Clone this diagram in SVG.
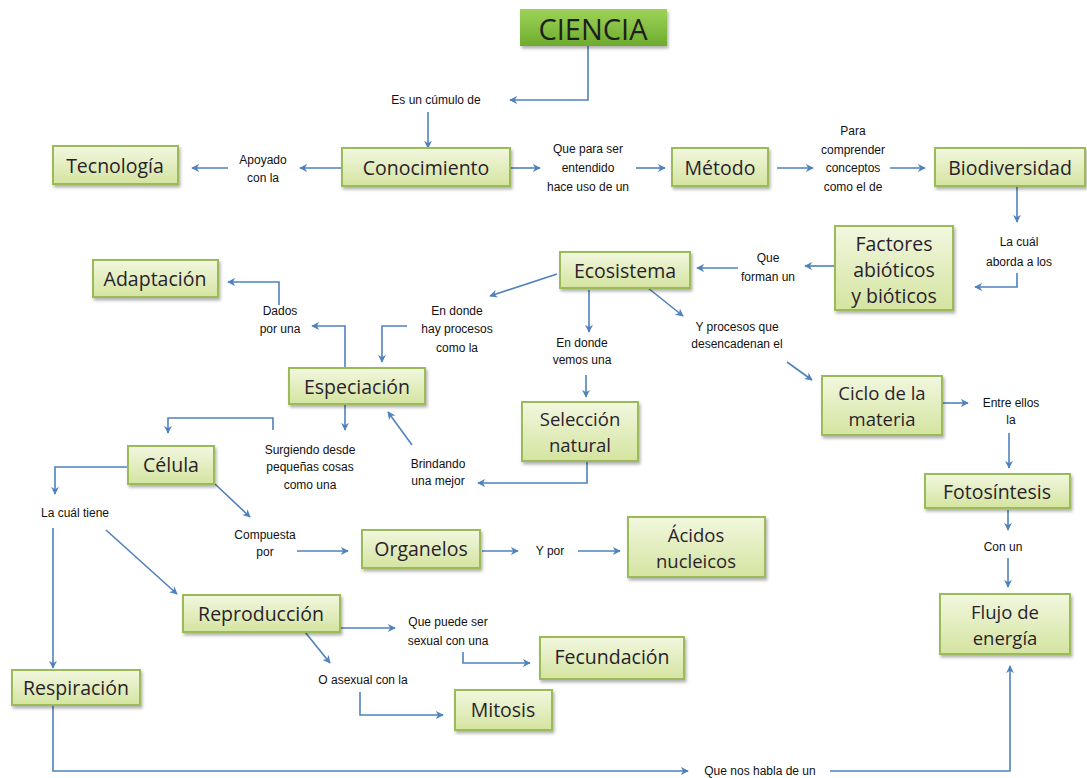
<svg xmlns="http://www.w3.org/2000/svg" width="1087" height="778" viewBox="0 0 1087 778">
<defs>
<linearGradient id="gBox" x1="0" y1="0" x2="0" y2="1">
<stop offset="0" stop-color="#f2f7df"/>
<stop offset="1" stop-color="#d4e4a0"/>
</linearGradient>
<linearGradient id="gTop" x1="0" y1="0" x2="0" y2="1">
<stop offset="0" stop-color="#9ed35a"/>
<stop offset="1" stop-color="#6dac2c"/>
</linearGradient>
<filter id="sh" x="-10%" y="-10%" width="130%" height="140%">
<feDropShadow dx="1.5" dy="2.5" stdDeviation="1.5" flood-color="#000" flood-opacity="0.3"/>
</filter>
<marker id="ar" viewBox="0 0 10 10" refX="9" refY="5" markerWidth="8" markerHeight="8" markerUnits="userSpaceOnUse" orient="auto">
<path d="M0,0 L10,5 L0,10 L3,5 Z" fill="#4f81bd"/>
</marker>
</defs>
<style>
.box{fill:url(#gBox);stroke:#9bbb59;stroke-width:2;filter:url(#sh)}
.t{font-family:"Open Sans","Liberation Sans",sans-serif;font-size:19.5px;fill:#2a1f2d;text-anchor:middle;dominant-baseline:central}
.t2{font-size:18.5px}
.l{font-family:"Liberation Sans",sans-serif;font-size:12px;fill:#111;text-anchor:middle;dominant-baseline:central}
.c path{fill:none;stroke:#4f81bd;stroke-width:1.6;marker-end:url(#ar)}
</style>
<rect width="1087" height="778" fill="#ffffff"/>

<g class="c" id="connectors">
<path d="M588,46 V100 H510"/>
<path d="M428,112 V148"/>
<path d="M342,168 H300"/>
<path d="M228,168 H192"/>
<path d="M510,168 H540"/>
<path d="M636,168 H665"/>
<path d="M777,168 H813"/>
<path d="M890,168 H925"/>
<path d="M1017,186 V222"/>
<path d="M1017,273 V287 H975"/>
<path d="M835,266 H805"/>
<path d="M738,268 H697"/>
<path d="M557,274 L490,296"/>
<path d="M407,326 H382 V362"/>
<path d="M345,368 V326 H312"/>
<path d="M279,305 V282 H228"/>
<path d="M589,290 V332"/>
<path d="M586,375 V397"/>
<path d="M587,461 V483 H478"/>
<path d="M412,445 L388,412"/>
<path d="M648,288 L683,316"/>
<path d="M787,362 L812,380"/>
<path d="M942,403 H968"/>
<path d="M1009,433 V468"/>
<path d="M1008,510 V530"/>
<path d="M1008,558 V587"/>
<path d="M345,404 V430"/>
<path d="M273,430 V418 H168 V433"/>
<path d="M215,484 L250,517"/>
<path d="M297,551 H348"/>
<path d="M482,551 H518"/>
<path d="M578,551 H620"/>
<path d="M128,467 H55 V494"/>
<path d="M53,528 V668"/>
<path d="M106,530 L177,594"/>
<path d="M340,628 H395"/>
<path d="M463,652 V663 H530"/>
<path d="M305,632 L330,663"/>
<path d="M360,692 V715 H443"/>
<path d="M53,705 V771 H688"/>
<path d="M830,771 H1010 V666"/>
</g>

<g id="ciencia">
<rect x="520" y="9" width="147" height="37" fill="url(#gTop)" filter="url(#sh)"/>
<text class="t" x="593" y="28" style="font-size:29px;fill:#1e1e1e">CIENCIA</text>
</g>
<g id="conocimiento"><rect class="box" x="342" y="148" width="168" height="38"/><text class="t" x="426" y="167">Conocimiento</text></g>
<g id="tecnologia"><rect class="box" x="53" y="146" width="125" height="38"/><text class="t" x="115" y="165">Tecnología</text></g>
<g id="metodo"><rect class="box" x="672" y="148" width="96" height="38"/><text class="t" x="720" y="167">Método</text></g>
<g id="biodiversidad"><rect class="box" x="935" y="148" width="150" height="38"/><text class="t" x="1010" y="167">Biodiversidad</text></g>
<g id="factores"><rect class="box" x="835" y="226" width="118" height="84"/><text class="t" x="894" y="243">Factores</text><text class="t" x="894" y="269">abióticos</text><text class="t" x="894" y="295">y bióticos</text></g>
<g id="ecosistema"><rect class="box" x="560" y="252" width="130" height="36"/><text class="t" x="625" y="270">Ecosistema</text></g>
<g id="adaptacion"><rect class="box" x="93" y="260" width="125" height="37"/><text class="t" x="155" y="278">Adaptación</text></g>
<g id="especiacion"><rect class="box" x="289" y="368" width="136" height="36"/><text class="t" x="357" y="386">Especiación</text></g>
<g id="seleccion"><rect class="box" x="522" y="402" width="116" height="59"/><text class="t t2" x="580" y="418">Selección</text><text class="t t2" x="580" y="444">natural</text></g>
<g id="ciclo"><rect class="box" x="822" y="376" width="120" height="59"/><text class="t t2" x="882" y="392">Ciclo de la</text><text class="t t2" x="882" y="418">materia</text></g>
<g id="fotosintesis"><rect class="box" x="925" y="474" width="145" height="34"/><text class="t" x="997" y="491">Fotosíntesis</text></g>
<g id="flujo"><rect class="box" x="940" y="594" width="130" height="60"/><text class="t t2" x="1005" y="611">Flujo de</text><text class="t t2" x="1005" y="637">energía</text></g>
<g id="celula"><rect class="box" x="128" y="446" width="86" height="38"/><text class="t" x="171" y="464">Célula</text></g>
<g id="organelos"><rect class="box" x="362" y="530" width="118" height="38"/><text class="t" x="421" y="548">Organelos</text></g>
<g id="acidos"><rect class="box" x="628" y="517" width="137" height="60"/><text class="t t2" x="696" y="534">Ácidos</text><text class="t t2" x="696" y="560">nucleicos</text></g>
<g id="reproduccion"><rect class="box" x="183" y="595" width="157" height="37"/><text class="t" x="261" y="613">Reproducción</text></g>
<g id="fecundacion"><rect class="box" x="540" y="637" width="144" height="42"/><text class="t" x="612" y="656">Fecundación</text></g>
<g id="mitosis"><rect class="box" x="455" y="690" width="97" height="40"/><text class="t" x="503" y="709">Mitosis</text></g>
<g id="respiracion"><rect class="box" x="12" y="670" width="128" height="35"/><text class="t" x="76" y="687">Respiración</text></g>

<g id="labels">
<text class="l" x="436" y="100">Es un cúmulo de</text>
<text class="l" x="263" y="160">Apoyado</text><text class="l" x="263" y="178">con la</text>
<text class="l" x="588" y="149">Que para ser</text><text class="l" x="588" y="168">entendido</text><text class="l" x="588" y="187">hace uso de un</text>
<text class="l" x="853" y="131">Para</text><text class="l" x="853" y="150">comprender</text><text class="l" x="853" y="168">conceptos</text><text class="l" x="853" y="187">como el de</text>
<text class="l" x="1019" y="242">La cuál</text><text class="l" x="1019" y="262">aborda a los</text>
<text class="l" x="768" y="258">Que</text><text class="l" x="768" y="277">forman un</text>
<text class="l" x="457" y="311">En donde</text><text class="l" x="457" y="329">hay procesos</text><text class="l" x="457" y="348">como la</text>
<text class="l" x="280" y="311">Dados</text><text class="l" x="280" y="329">por una</text>
<text class="l" x="582" y="343">En donde</text><text class="l" x="582" y="360">vemos una</text>
<text class="l" x="737" y="327">Y procesos que</text><text class="l" x="737" y="344">desencadenan el</text>
<text class="l" x="1011" y="403">Entre ellos</text><text class="l" x="1011" y="420">la</text>
<text class="l" x="1003" y="547">Con un</text>
<text class="l" x="310" y="450">Surgiendo desde</text><text class="l" x="310" y="467">pequeñas cosas</text><text class="l" x="310" y="485">como una</text>
<text class="l" x="438" y="464">Brindando</text><text class="l" x="438" y="481">una mejor</text>
<text class="l" x="75" y="513">La cuál tiene</text>
<text class="l" x="265" y="535">Compuesta</text><text class="l" x="265" y="552">por</text>
<text class="l" x="550" y="551">Y por</text>
<text class="l" x="448" y="622">Que puede ser</text><text class="l" x="448" y="641">sexual con una</text>
<text class="l" x="363" y="680">O asexual con la</text>
<text class="l" x="760" y="771">Que nos habla de un</text>
</g>
</svg>
